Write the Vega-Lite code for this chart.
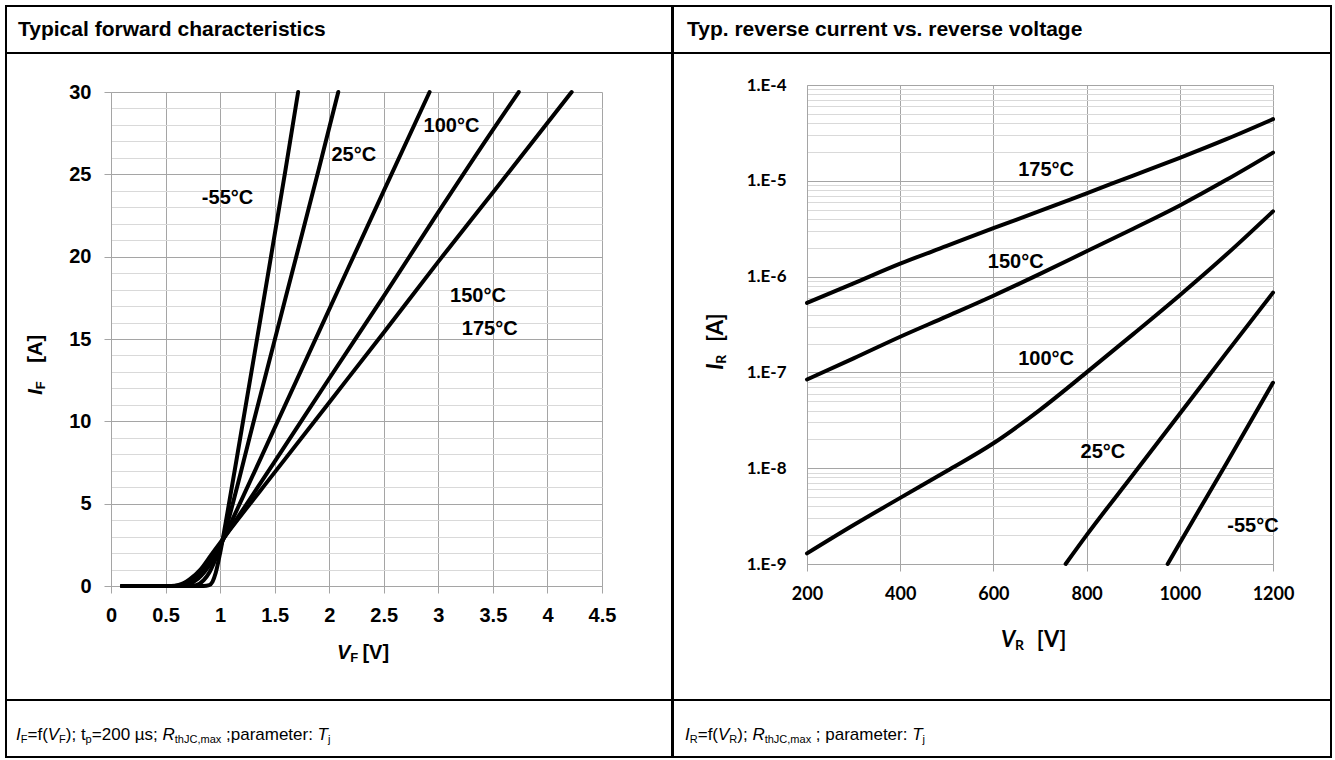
{
  "$schema": "https://vega.github.io/schema/vega-lite/v6.json",
  "background": "white",
  "padding": {"left": 5, "top": 5, "right": 0, "bottom": 0},
  "spacing": -2,
  "datasets": {
    "fwd": [
      {"T": "-55°C", "V": 0.1, "I": 0}, {"T": "-55°C", "V": 0.5, "I": 0}, {"T": "-55°C", "V": 0.85, "I": 0}, {"T": "-55°C", "V": 0.9, "I": 0.05}, {"T": "-55°C", "V": 0.93, "I": 0.25}, {"T": "-55°C", "V": 0.96, "I": 0.8}, {"T": "-55°C", "V": 1.0, "I": 2.0}, {"T": "-55°C", "V": 1.05, "I": 3.8}, {"T": "-55°C", "V": 1.2, "I": 9.6}, {"T": "-55°C", "V": 1.4, "I": 17.4}, {"T": "-55°C", "V": 1.6, "I": 25.3}, {"T": "-55°C", "V": 1.715, "I": 30},
      {"T": "25°C", "V": 0.1, "I": 0}, {"T": "25°C", "V": 0.7, "I": 0}, {"T": "25°C", "V": 0.78, "I": 0.05}, {"T": "25°C", "V": 0.85, "I": 0.35}, {"T": "25°C", "V": 0.9, "I": 0.8}, {"T": "25°C", "V": 0.95, "I": 1.5}, {"T": "25°C", "V": 1.0, "I": 2.3}, {"T": "25°C", "V": 1.05, "I": 3.4}, {"T": "25°C", "V": 1.3, "I": 9.8}, {"T": "25°C", "V": 1.6, "I": 17.5}, {"T": "25°C", "V": 1.9, "I": 25.2}, {"T": "25°C", "V": 2.083, "I": 30},
      {"T": "100°C", "V": 0.1, "I": 0}, {"T": "100°C", "V": 0.62, "I": 0}, {"T": "100°C", "V": 0.7, "I": 0.08}, {"T": "100°C", "V": 0.8, "I": 0.45}, {"T": "100°C", "V": 0.9, "I": 1.25}, {"T": "100°C", "V": 1.0, "I": 2.45}, {"T": "100°C", "V": 1.1, "I": 3.85}, {"T": "100°C", "V": 1.5, "I": 9.6}, {"T": "100°C", "V": 2.0, "I": 16.8}, {"T": "100°C", "V": 2.5, "I": 24.0}, {"T": "100°C", "V": 2.92, "I": 30},
      {"T": "150°C", "V": 0.1, "I": 0}, {"T": "150°C", "V": 0.58, "I": 0}, {"T": "150°C", "V": 0.65, "I": 0.06}, {"T": "150°C", "V": 0.75, "I": 0.35}, {"T": "150°C", "V": 0.85, "I": 1.0}, {"T": "150°C", "V": 0.95, "I": 1.95}, {"T": "150°C", "V": 1.02, "I": 2.75}, {"T": "150°C", "V": 1.1, "I": 3.55}, {"T": "150°C", "V": 1.5, "I": 7.55}, {"T": "150°C", "V": 2.0, "I": 12.6}, {"T": "150°C", "V": 2.5, "I": 17.6}, {"T": "150°C", "V": 3.0, "I": 22.7}, {"T": "150°C", "V": 3.5, "I": 27.7}, {"T": "150°C", "V": 3.737, "I": 30},
      {"T": "175°C", "V": 0.1, "I": 0}, {"T": "175°C", "V": 0.55, "I": 0}, {"T": "175°C", "V": 0.62, "I": 0.06}, {"T": "175°C", "V": 0.72, "I": 0.4}, {"T": "175°C", "V": 0.82, "I": 1.0}, {"T": "175°C", "V": 0.92, "I": 1.9}, {"T": "175°C", "V": 1.02, "I": 2.8}, {"T": "175°C", "V": 1.1, "I": 3.5}, {"T": "175°C", "V": 1.5, "I": 6.9}, {"T": "175°C", "V": 2.0, "I": 11.15}, {"T": "175°C", "V": 2.5, "I": 15.4}, {"T": "175°C", "V": 3.0, "I": 19.7}, {"T": "175°C", "V": 3.5, "I": 23.9}, {"T": "175°C", "V": 4.222, "I": 30}
    ],
    "fwdLabels": [
      {"label": "-55°C", "V": 1.068, "I": 23.56},
      {"label": "25°C", "V": 2.225, "I": 26.2},
      {"label": "100°C", "V": 3.12, "I": 27.95},
      {"label": "150°C", "V": 3.363, "I": 17.62},
      {"label": "175°C", "V": 3.471, "I": 15.61}
    ],
    "rev": [
      {"T": "175°C", "V": 200, "I": 5.31e-7}, {"T": "175°C", "V": 300, "I": 8.51e-7}, {"T": "175°C", "V": 400, "I": 1.365e-6}, {"T": "175°C", "V": 500, "I": 2.09e-6}, {"T": "175°C", "V": 600, "I": 3.2e-6}, {"T": "175°C", "V": 700, "I": 4.84e-6}, {"T": "175°C", "V": 800, "I": 7.41e-6}, {"T": "175°C", "V": 900, "I": 1.135e-5}, {"T": "175°C", "V": 1000, "I": 1.738e-5}, {"T": "175°C", "V": 1100, "I": 2.72e-5}, {"T": "175°C", "V": 1200, "I": 4.4e-5},
      {"T": "150°C", "V": 200, "I": 8.43e-8}, {"T": "150°C", "V": 300, "I": 1.4e-7}, {"T": "150°C", "V": 400, "I": 2.355e-7}, {"T": "150°C", "V": 500, "I": 3.84e-7}, {"T": "150°C", "V": 600, "I": 6.31e-7}, {"T": "150°C", "V": 700, "I": 1.067e-6}, {"T": "150°C", "V": 800, "I": 1.837e-6}, {"T": "150°C", "V": 900, "I": 3.16e-6}, {"T": "150°C", "V": 1000, "I": 5.53e-6}, {"T": "150°C", "V": 1100, "I": 1.023e-5}, {"T": "150°C", "V": 1200, "I": 1.968e-5},
      {"T": "100°C", "V": 200, "I": 1.29e-9}, {"T": "100°C", "V": 300, "I": 2.55e-9}, {"T": "100°C", "V": 400, "I": 4.9e-9}, {"T": "100°C", "V": 500, "I": 9.33e-9}, {"T": "100°C", "V": 600, "I": 1.82e-8}, {"T": "100°C", "V": 700, "I": 4.07e-8}, {"T": "100°C", "V": 800, "I": 1.0e-7}, {"T": "100°C", "V": 900, "I": 2.51e-7}, {"T": "100°C", "V": 1000, "I": 6.4e-7}, {"T": "100°C", "V": 1100, "I": 1.7e-6}, {"T": "100°C", "V": 1200, "I": 4.8e-6},
      {"T": "25°C", "V": 755, "I": 1.0e-9}, {"T": "25°C", "V": 800, "I": 2.0e-9}, {"T": "25°C", "V": 900, "I": 8.6e-9}, {"T": "25°C", "V": 1000, "I": 3.7e-8}, {"T": "25°C", "V": 1100, "I": 1.6e-7}, {"T": "25°C", "V": 1200, "I": 6.8e-7},
      {"T": "-55°C", "V": 974, "I": 1.0e-9}, {"T": "-55°C", "V": 1000, "I": 1.66e-9}, {"T": "-55°C", "V": 1100, "I": 1.12e-8}, {"T": "-55°C", "V": 1200, "I": 7.8e-8}
    ],
    "revLabels": [
      {"label": "175°C", "V": 713, "I": 1.31e-5},
      {"label": "150°C", "V": 648, "I": 1.42e-6},
      {"label": "100°C", "V": 713, "I": 1.38e-7},
      {"label": "25°C", "V": 835, "I": 1.46e-8},
      {"label": "-55°C", "V": 1157, "I": 2.47e-9}
    ]
  },
  "hconcat": [
    {
      "bounds": "flush",
      "spacing": 0,
      "vconcat": [
        {
          "width": 666, "height": 47,
          "data": {"values": [{"txt": "Typical forward characteristics"}]},
          "mark": {"type": "text", "align": "left", "baseline": "middle", "font": "Liberation Sans", "fontSize": 21, "fontWeight": "bold", "color": "black", "dx": 12},
          "encoding": {"text": {"field": "txt"}, "x": {"datum": 0, "scale": {"domain": [0, 1]}, "axis": null}}
        },
        {
          "width": 666, "height": 647,
          "resolve": {"axis": {"x": "independent", "y": "independent"}},
          "layer": [
            {
              "data": {"name": "fwd"},
              "mark": {"type": "line", "color": "black", "strokeWidth": 4, "strokeCap": "round", "strokeJoin": "round", "interpolate": "monotone"},
              "encoding": {
                "x": {"field": "V", "type": "quantitative",
                  "scale": {"domain": [0, 4.5], "range": [105, 596], "nice": false, "zero": false},
                  "axis": {"orient": "bottom", "offset": -114, "values": [0, 0.5, 1, 1.5, 2, 2.5, 3, 3.5, 4, 4.5], "format": "~g", "title": null, "grid": false, "tickSize": 7, "labelPadding": 12, "labelFont": "Liberation Sans", "labelFontWeight": "bold", "labelFontSize": 20}},
                "y": {"field": "I", "type": "quantitative",
                  "scale": {"domain": [0, 30], "range": [533, 39], "nice": false, "zero": false},
                  "axis": {"orient": "left", "offset": -105, "values": [0, 5, 10, 15, 20, 25, 30], "format": "~g", "title": null, "grid": true, "tickSize": 7, "labelPadding": 13, "labelFont": "Liberation Sans", "labelFontWeight": "bold", "labelFontSize": 20}},
                "detail": {"field": "T"}
              }
            },
            {
              "data": {"name": "fwdLabels"},
              "mark": {"type": "text", "font": "Liberation Sans", "fontWeight": "bold", "fontSize": 20, "color": "black", "align": "center", "baseline": "middle"},
              "encoding": {
                "x": {"field": "V", "type": "quantitative",
                  "axis": {"orient": "top", "values": [0, 0.5, 1, 1.5, 2, 2.5, 3, 3.5, 4, 4.5], "grid": true, "labels": false, "ticks": false, "domain": false, "title": null}},
                "y": {"field": "I", "type": "quantitative",
                  "axis": {"orient": "left", "offset": -105, "values": [1, 2, 3, 4, 6, 7, 8, 9, 11, 12, 13, 14, 16, 17, 18, 19, 21, 22, 23, 24, 26, 27, 28, 29], "grid": true, "gridColor": "#d9d9d9", "labels": false, "ticks": false, "domain": false, "title": null}},
                "text": {"field": "label"}
              }
            },
            {
              "data": {"values": [{}]},
              "encoding": {"x": {"datum": 2.3, "axis": null}, "y": {"datum": -4.07, "axis": null}},
              "layer": [
                {"mark": {"type": "text", "text": "V", "font": "Liberation Sans", "fontWeight": "bold", "fontStyle": "italic", "fontSize": 20, "align": "left", "baseline": "middle", "dx": -25, "color": "black"}},
                {"mark": {"type": "text", "text": "F", "font": "Liberation Sans", "fontWeight": "bold", "fontSize": 13, "align": "left", "baseline": "middle", "dx": -11.7, "dy": 5, "color": "black"}},
                {"mark": {"type": "text", "text": "[V]", "font": "Liberation Sans", "fontWeight": "bold", "fontSize": 20, "align": "left", "baseline": "middle", "dx": 0.5, "color": "black"}}
              ]
            },
            {
              "data": {"values": [{}]},
              "encoding": {"x": {"datum": -0.687, "axis": null}, "y": {"datum": 13.44, "axis": null}},
              "layer": [
                {"mark": {"type": "text", "text": "I", "angle": 270, "font": "Liberation Sans", "fontWeight": "bold", "fontStyle": "italic", "fontSize": 20, "align": "left", "baseline": "middle", "dx": -30, "color": "black"}},
                {"mark": {"type": "text", "text": "F", "angle": 270, "font": "Liberation Sans", "fontWeight": "bold", "fontSize": 13, "align": "left", "baseline": "middle", "dx": -24.5, "dy": 5, "color": "black"}},
                {"mark": {"type": "text", "text": "[A]", "angle": 270, "font": "Liberation Sans", "fontWeight": "bold", "fontSize": 20, "align": "left", "baseline": "middle", "dx": 2, "color": "black"}}
              ]
            }
          ]
        },
        {
          "width": 666, "height": 57,
          "data": {"values": [{}]},
          "encoding": {"x": {"datum": 0, "scale": {"domain": [0, 1]}, "axis": null}},
          "layer": [
            {"mark": {"type": "text", "text": "I", "font": "Liberation Sans", "fontStyle": "italic", "fontSize": 17, "align": "left", "baseline": "middle", "dx": 10, "dy": 6, "color": "black"}},
            {"mark": {"type": "text", "text": "F", "font": "Liberation Sans", "fontSize": 11, "align": "left", "baseline": "middle", "dx": 14.7, "dy": 11, "color": "black"}},
            {"mark": {"type": "text", "text": "=f(", "font": "Liberation Sans", "fontSize": 17, "align": "left", "baseline": "middle", "dx": 21.5, "dy": 6, "color": "black"}},
            {"mark": {"type": "text", "text": "V", "font": "Liberation Sans", "fontStyle": "italic", "fontSize": 17, "align": "left", "baseline": "middle", "dx": 41.8, "dy": 6, "color": "black"}},
            {"mark": {"type": "text", "text": "F", "font": "Liberation Sans", "fontSize": 11, "align": "left", "baseline": "middle", "dx": 53.1, "dy": 11, "color": "black"}},
            {"mark": {"type": "text", "text": "); t", "font": "Liberation Sans", "fontSize": 17, "align": "left", "baseline": "middle", "dx": 59.8, "dy": 6, "color": "black"}},
            {"mark": {"type": "text", "text": "p", "font": "Liberation Sans", "fontSize": 11, "align": "left", "baseline": "middle", "dx": 79.6, "dy": 11, "color": "black"}},
            {"mark": {"type": "text", "text": "=200 µs;", "font": "Liberation Sans", "fontSize": 17, "align": "left", "baseline": "middle", "dx": 85.8, "dy": 6, "color": "black"}},
            {"mark": {"type": "text", "text": "R", "font": "Liberation Sans", "fontStyle": "italic", "fontSize": 17, "align": "left", "baseline": "middle", "dx": 156.5, "dy": 6, "color": "black"}},
            {"mark": {"type": "text", "text": "thJC,max", "font": "Liberation Sans", "fontSize": 11, "align": "left", "baseline": "middle", "dx": 168.8, "dy": 11, "color": "black"}},
            {"mark": {"type": "text", "text": ";parameter:", "font": "Liberation Sans", "fontSize": 17, "align": "left", "baseline": "middle", "dx": 220, "dy": 6, "color": "black"}},
            {"mark": {"type": "text", "text": "T", "font": "Liberation Sans", "fontStyle": "italic", "fontSize": 17, "align": "left", "baseline": "middle", "dx": 311.6, "dy": 6, "color": "black"}},
            {"mark": {"type": "text", "text": "j", "font": "Liberation Sans", "fontSize": 11, "align": "left", "baseline": "middle", "dx": 322, "dy": 11, "color": "black"}}
          ]
        }
      ]
    },
    {
      "bounds": "flush",
      "spacing": 0,
      "vconcat": [
        {
          "width": 658, "height": 47,
          "data": {"values": [{"txt": "Typ. reverse current vs. reverse voltage"}]},
          "mark": {"type": "text", "align": "left", "baseline": "middle", "font": "Liberation Sans", "fontSize": 21, "fontWeight": "bold", "color": "black", "dx": 14},
          "encoding": {"text": {"field": "txt"}, "x": {"datum": 0, "scale": {"domain": [0, 1]}, "axis": null}}
        },
        {
          "width": 658, "height": 647,
          "resolve": {"axis": {"x": "independent", "y": "independent"}},
          "layer": [
            {
              "data": {"name": "rev"},
              "mark": {"type": "line", "color": "black", "strokeWidth": 4, "strokeCap": "round", "strokeJoin": "round", "interpolate": "monotone"},
              "encoding": {
                "x": {"field": "V", "type": "quantitative",
                  "scale": {"domain": [200, 1200], "range": [134, 600], "nice": false, "zero": false},
                  "axis": {"orient": "bottom", "offset": -136, "values": [200, 400, 600, 800, 1000, 1200], "format": "d", "title": null, "grid": false, "tickSize": 7, "labelPadding": 14, "labelFont": "Lato", "labelFontWeight": "bold", "labelFontSize": 18}},
                "y": {"field": "I", "type": "quantitative",
                  "scale": {"type": "log", "domain": [1e-9, 1e-4], "range": [511, 32], "nice": false},
                  "axis": {"orient": "left", "offset": -134, "values": [1e-9, 1e-8, 1e-7, 1e-6, 1e-5, 1e-4], "labelExpr": "'1.E' + round(log(datum.value)/LN10)", "title": null, "grid": true, "ticks": false, "labelPadding": 21, "labelFont": "Lato", "labelFontWeight": "bold", "labelFontSize": 17}},
                "detail": {"field": "T"}
              }
            },
            {
              "data": {"name": "revLabels"},
              "mark": {"type": "text", "font": "Liberation Sans", "fontWeight": "bold", "fontSize": 20, "color": "black", "align": "center", "baseline": "middle"},
              "encoding": {
                "x": {"field": "V", "type": "quantitative",
                  "axis": {"orient": "top", "values": [200, 400, 600, 800, 1000, 1200], "grid": true, "labels": false, "ticks": false, "domain": false, "title": null}},
                "y": {"field": "I", "type": "quantitative",
                  "axis": {"orient": "left", "offset": -134, "values": [2e-9, 3e-9, 4e-9, 5e-9, 6e-9, 7e-9, 8e-9, 9e-9, 2e-8, 3e-8, 4e-8, 5e-8, 6e-8, 7e-8, 8e-8, 9e-8, 2e-7, 3e-7, 4e-7, 5e-7, 6e-7, 7e-7, 8e-7, 9e-7, 2e-6, 3e-6, 4e-6, 5e-6, 6e-6, 7e-6, 8e-6, 9e-6, 2e-5, 3e-5, 4e-5, 5e-5, 6e-5, 7e-5, 8e-5, 9e-5], "grid": true, "gridColor": "#d9d9d9", "labels": false, "ticks": false, "domain": false, "title": null}},
                "text": {"field": "label"}
              }
            },
            {
              "data": {"values": [{}]},
              "encoding": {"x": {"datum": 685, "axis": null}, "y": {"datum": 1.62e-10, "axis": null}},
              "layer": [
                {"mark": {"type": "text", "text": "V", "font": "Lato", "fontWeight": "bold", "fontStyle": "italic", "fontSize": 22, "align": "left", "baseline": "middle", "dx": -32, "color": "black"}},
                {"mark": {"type": "text", "text": "R", "font": "Lato", "fontWeight": "bold", "fontSize": 14, "align": "left", "baseline": "middle", "dx": -18, "dy": 6, "color": "black"}},
                {"mark": {"type": "text", "text": "[V]", "font": "Lato", "fontWeight": "bold", "fontSize": 22, "align": "left", "baseline": "middle", "dx": 3.7, "color": "black"}}
              ]
            },
            {
              "data": {"values": [{}]},
              "encoding": {"x": {"datum": 4, "axis": null}, "y": {"datum": 2.09e-7, "axis": null}},
              "layer": [
                {"mark": {"type": "text", "text": "I", "angle": 270, "font": "Lato", "fontWeight": "bold", "fontStyle": "italic", "fontSize": 22, "align": "left", "baseline": "middle", "dx": -28, "color": "black"}},
                {"mark": {"type": "text", "text": "R", "angle": 270, "font": "Lato", "fontWeight": "bold", "fontSize": 14, "align": "left", "baseline": "middle", "dx": -22, "dy": 6, "color": "black"}},
                {"mark": {"type": "text", "text": "[A]", "angle": 270, "font": "Lato", "fontWeight": "bold", "fontSize": 22, "align": "left", "baseline": "middle", "dx": 0, "color": "black"}}
              ]
            }
          ]
        },
        {
          "width": 658, "height": 57,
          "data": {"values": [{}]},
          "encoding": {"x": {"datum": 0, "scale": {"domain": [0, 1]}, "axis": null}},
          "layer": [
            {"mark": {"type": "text", "text": "I", "font": "Liberation Sans", "fontStyle": "italic", "fontSize": 17, "align": "left", "baseline": "middle", "dx": 12, "dy": 6, "color": "black"}},
            {"mark": {"type": "text", "text": "R", "font": "Liberation Sans", "fontSize": 11, "align": "left", "baseline": "middle", "dx": 16.7, "dy": 11, "color": "black"}},
            {"mark": {"type": "text", "text": "=f(", "font": "Liberation Sans", "fontSize": 17, "align": "left", "baseline": "middle", "dx": 24.7, "dy": 6, "color": "black"}},
            {"mark": {"type": "text", "text": "V", "font": "Liberation Sans", "fontStyle": "italic", "fontSize": 17, "align": "left", "baseline": "middle", "dx": 45, "dy": 6, "color": "black"}},
            {"mark": {"type": "text", "text": "R", "font": "Liberation Sans", "fontSize": 11, "align": "left", "baseline": "middle", "dx": 56.3, "dy": 11, "color": "black"}},
            {"mark": {"type": "text", "text": ");", "font": "Liberation Sans", "fontSize": 17, "align": "left", "baseline": "middle", "dx": 64.3, "dy": 6, "color": "black"}},
            {"mark": {"type": "text", "text": "R", "font": "Liberation Sans", "fontStyle": "italic", "fontSize": 17, "align": "left", "baseline": "middle", "dx": 79.4, "dy": 6, "color": "black"}},
            {"mark": {"type": "text", "text": "thJC,max", "font": "Liberation Sans", "fontSize": 11, "align": "left", "baseline": "middle", "dx": 91.7, "dy": 11, "color": "black"}},
            {"mark": {"type": "text", "text": "; parameter:", "font": "Liberation Sans", "fontSize": 17, "align": "left", "baseline": "middle", "dx": 142.8, "dy": 6, "color": "black"}},
            {"mark": {"type": "text", "text": "T", "font": "Liberation Sans", "fontStyle": "italic", "fontSize": 17, "align": "left", "baseline": "middle", "dx": 239.2, "dy": 6, "color": "black"}},
            {"mark": {"type": "text", "text": "j", "font": "Liberation Sans", "fontSize": 11, "align": "left", "baseline": "middle", "dx": 249.6, "dy": 11, "color": "black"}}
          ]
        }
      ]
    }
  ],
  "config": {
    "view": {"stroke": "black", "strokeWidth": 2},
    "axis": {"gridColor": "#a5a5a5", "gridOpacity": 1, "gridWidth": 1, "domainColor": "#a5a5a5", "tickColor": "#a5a5a5", "labelColor": "black", "labelFlush": false, "labelOverlap": false}
  }
}
